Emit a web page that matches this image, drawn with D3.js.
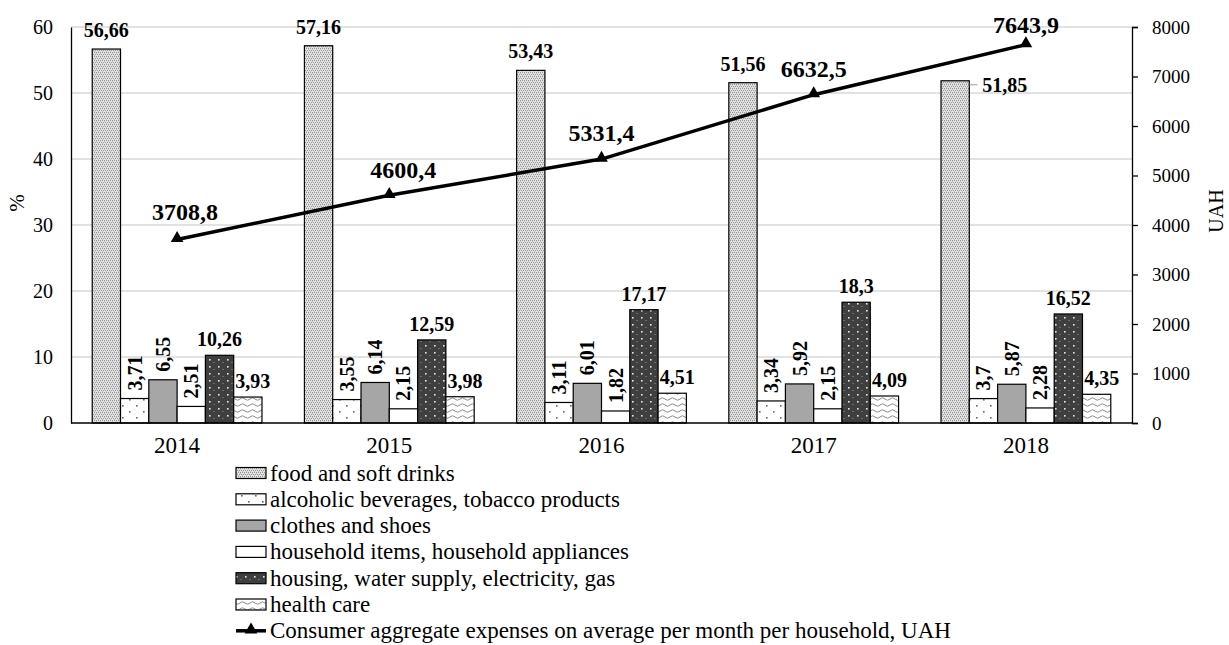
<!DOCTYPE html>
<html>
<head>
<meta charset="utf-8">
<script src="https://cdn.jsdelivr.net/npm/d3@7/dist/d3.min.js"></script>
<style>
  html, body { margin: 0; padding: 0; background: #fff; }
  svg, svg text { font-family: "Liberation Serif", "Times New Roman", serif; }
</style>
</head>
<body>
<svg id="chart" width="1229" height="645"></svg>
<script>
// Household consumer spending structure (%) and aggregate monthly expenses (UAH)
const years = ["2014", "2015", "2016", "2017", "2018"];
const food = [56.66, 57.16, 53.43, 51.56, 51.85];
const alcohol = [3.71, 3.55, 3.11, 3.34, 3.7];
const clothes = [6.55, 6.14, 6.01, 5.92, 5.87];
const household = [2.51, 2.15, 1.82, 2.15, 2.28];
const housing = [10.26, 12.59, 17.17, 18.3, 16.52];
const health = [3.93, 3.98, 4.51, 4.09, 4.35];
const expenses = [3708.8, 4600.4, 5331.4, 6632.5, 7643.9];

const seriesNames = [
  "food and soft drinks",
  "alcoholic beverages, tobacco products",
  "clothes and shoes",
  "household items, household appliances",
  "housing, water supply, electricity, gas",
  "health care"
];
const lineName = "Consumer aggregate expenses on average per month per household, UAH";
const leftTicks = [0, 10, 20, 30, 40, 50, 60];
const rightTicks = [0, 1000, 2000, 3000, 4000, 5000, 6000, 7000, 8000];

const seriesValues = [food, alcohol, clothes, household, housing, health];
const seriesKeys = ["food", "alcohol", "clothes", "household", "housing", "health"];

// drawing setup
const FONT = "Liberation Serif, Times New Roman, serif";
const fills = {
  food: "url(#pFood)", alcohol: "url(#pAlcohol)", clothes: "#a6a6a6",
  household: "#ffffff", housing: "url(#pHousing)", health: "url(#pHealth)"
};
// label style for each series: rotated labels for the short narrow bars
const labelMode = { food: "top", alcohol: "rot", clothes: "rot", household: "rot", housing: "top", health: "top" };
// offsets of expense labels relative to their points
const lineLabelOffset = [[8, -19], [14, -17], [0, -18], [0, -18], [0, -12]];

const fmt = v => String(v).replace(".", ",");

const svg = d3.select("#chart").attr("font-family", FONT);
const plotLeft = 71, plotRight = 1132, plotTop = 27, plotBottom = 423;

const defs = svg.append("defs");
// fine stipple for food
const pf = defs.append("pattern").attr("id", "pFood").attr("patternUnits", "userSpaceOnUse").attr("width", 4).attr("height", 4);
pf.append("rect").attr("width", 4).attr("height", 4).attr("fill", "#e2e2e2");
[[0, 0], [2, 0], [1, 2], [3, 2], [0, 1], [2, 3]].forEach(([x, y], i) =>
  pf.append("rect").attr("x", x).attr("y", y).attr("width", 1).attr("height", 1).attr("fill", i < 4 ? "#979797" : "#c4c4c4"));
// sparse dots for alcohol
const pa = defs.append("pattern").attr("id", "pAlcohol").attr("patternUnits", "userSpaceOnUse").attr("width", 14).attr("height", 12);
pa.append("rect").attr("width", 14).attr("height", 12).attr("fill", "#fff");
pa.append("rect").attr("x", 3).attr("y", 3).attr("width", 1.6).attr("height", 1.6).attr("fill", "#666");
pa.append("rect").attr("x", 10).attr("y", 9).attr("width", 1.6).attr("height", 1.6).attr("fill", "#666");
// dark with light dots for housing
const ph = defs.append("pattern").attr("id", "pHousing").attr("patternUnits", "userSpaceOnUse").attr("width", 9).attr("height", 7);
ph.append("rect").attr("width", 9).attr("height", 7).attr("fill", "#3f3f3f");
ph.append("rect").attr("x", 2).attr("y", 2).attr("width", 1.6).attr("height", 1.6).attr("fill", "#e8e8e8");
ph.append("rect").attr("x", 6.5).attr("y", 5).attr("width", 1).attr("height", 1).attr("fill", "#9a9a9a");
// waves for health care
const pw = defs.append("pattern").attr("id", "pHealth").attr("patternUnits", "userSpaceOnUse").attr("width", 10).attr("height", 6);
pw.append("rect").attr("width", 10).attr("height", 6).attr("fill", "#fff");
pw.append("path").attr("d", "M0,3 Q2.5,0.5 5,3 T10,3").attr("fill", "none").attr("stroke", "#8a8a8a").attr("stroke-width", 1);

// scales
const x0 = d3.scaleBand().domain(years).range([plotLeft, plotRight]).paddingInner(0.2).paddingOuter(0.1);
const x1 = d3.scaleBand().domain(seriesKeys).range([0, x0.bandwidth()]);
const yL = d3.scaleLinear().domain([0, 60]).range([plotBottom, plotTop]);
const yR = d3.scaleLinear().domain([0, 8000]).range([plotBottom, plotTop]);

// gridlines
svg.append("g").selectAll("line").data(leftTicks.filter(t => t > 0)).join("line")
  .attr("x1", plotLeft).attr("x2", plotRight)
  .attr("y1", d => yL(d)).attr("y2", d => yL(d))
  .attr("stroke", "#d9d9d9").attr("stroke-width", 1.5);

// bars
const flat = [];
years.forEach((yr, i) => seriesKeys.forEach((k, j) => flat.push({ yr, i, k, v: seriesValues[j][i] })));
svg.append("g").selectAll("rect").data(flat).join("rect")
  .attr("x", d => x0(d.yr) + x1(d.k))
  .attr("y", d => yL(d.v))
  .attr("width", x1.bandwidth())
  .attr("height", d => plotBottom - yL(d.v))
  .attr("fill", d => fills[d.k])
  .attr("stroke", "#000").attr("stroke-width", 1.2);

// axes
const axL = svg.append("g").attr("transform", `translate(${plotLeft},0)`)
  .call(d3.axisLeft(yL).tickValues(leftTicks).tickSize(0).tickPadding(18).tickFormat(d3.format("d")));
const axR = svg.append("g").attr("transform", `translate(${plotRight},0)`)
  .call(d3.axisRight(yR).tickValues(rightTicks).tickSize(6).tickPadding(14).tickFormat(d3.format("d")));
const axB = svg.append("g").attr("transform", `translate(0,${plotBottom})`)
  .call(d3.axisBottom(x0).tickSize(0).tickPadding(14));
[axL, axR, axB].forEach(a => {
  a.attr("font-family", FONT);
  a.select(".domain").attr("stroke", "#000").attr("stroke-width", 1.3);
  a.selectAll(".tick line").attr("stroke", "#000").attr("stroke-width", 1.3);
  a.selectAll("text").attr("fill", "#000").attr("font-family", FONT);
});
axL.selectAll("text").attr("font-size", 20);
axR.selectAll("text").attr("font-size", 19);
axB.selectAll("text").attr("font-size", 23);
axB.select(".domain").attr("d", `M${plotLeft},0H${plotRight}`);

// axis titles
svg.append("text").attr("transform", "translate(24,203) rotate(-90)")
  .attr("text-anchor", "middle").attr("font-size", 21).text("%");
svg.append("text").attr("transform", "translate(1223,211) rotate(-90)")
  .attr("text-anchor", "middle").attr("font-size", 20).text("UAH");

// bar value labels
const lbl = svg.append("g").attr("font-weight", "bold").attr("font-size", 20).attr("fill", "#000");
flat.forEach(d => {
  const cx = x0(d.yr) + x1(d.k) + x1.bandwidth() / 2;
  const ty = yL(d.v);
  if (d.k === "food" && d.i === years.length - 1) {
    const xr = x0(d.yr) + x1(d.k) + x1.bandwidth();
    lbl.append("line").attr("x1", xr).attr("x2", xr + 8).attr("y1", ty + 4).attr("y2", ty + 4)
      .attr("stroke", "#999").attr("stroke-width", 1);
    lbl.append("text").attr("x", xr + 13).attr("y", ty + 11).text(fmt(d.v));
  } else if (labelMode[d.k] === "rot") {
    lbl.append("text").attr("transform", `translate(${cx + 7},${ty - 8}) rotate(-90)`)
      .attr("text-anchor", "start").text(fmt(d.v));
  } else {
    const dx = d.k === "health" ? 5 : 0;
    const dy = d.k === "food" ? 12 : 9;
    lbl.append("text").attr("x", cx + dx).attr("y", ty - dy).attr("text-anchor", "middle").text(fmt(d.v));
  }
});

// expenses line
const px = i => x0(years[i]) + x0.bandwidth() / 2;
const line = d3.line().x((d, i) => px(i)).y(d => yR(d));
svg.append("path").datum(expenses).attr("d", line)
  .attr("fill", "none").attr("stroke", "#000").attr("stroke-width", 3.5).attr("stroke-linejoin", "round");
const tri = d3.symbol().type(d3.symbolTriangle).size(70);
svg.append("g").selectAll("path").data(expenses).join("path")
  .attr("d", tri).attr("transform", (d, i) => `translate(${px(i)},${yR(d) - 1})`).attr("fill", "#000");
svg.append("g").attr("font-weight", "bold").attr("font-size", 24).selectAll("text").data(expenses).join("text")
  .attr("x", (d, i) => px(i) + lineLabelOffset[i][0])
  .attr("y", (d, i) => yR(d) + lineLabelOffset[i][1])
  .attr("text-anchor", "middle").text(d => fmt(d));

// legend
const lg = svg.append("g").attr("font-size", 23);
const rowY = i => 473 + i * 26.3;
seriesKeys.forEach((k, i) => {
  lg.append("rect").attr("x", 236).attr("y", rowY(i) - 5.5).attr("width", 30).attr("height", 11)
    .attr("fill", fills[k]).attr("stroke", "#000").attr("stroke-width", 1.2);
  lg.append("text").attr("x", 270).attr("y", rowY(i)).attr("dy", "0.33em").text(seriesNames[i]);
});
const li = seriesKeys.length;
lg.append("line").attr("x1", 236).attr("x2", 266).attr("y1", rowY(li)).attr("y2", rowY(li))
  .attr("stroke", "#000").attr("stroke-width", 3.5);
lg.append("path").attr("d", tri).attr("transform", `translate(251,${rowY(li) - 1})`).attr("fill", "#000");
lg.append("text").attr("x", 270).attr("y", rowY(li)).attr("dy", "0.33em").text(lineName);
</script>
</body>
</html>
